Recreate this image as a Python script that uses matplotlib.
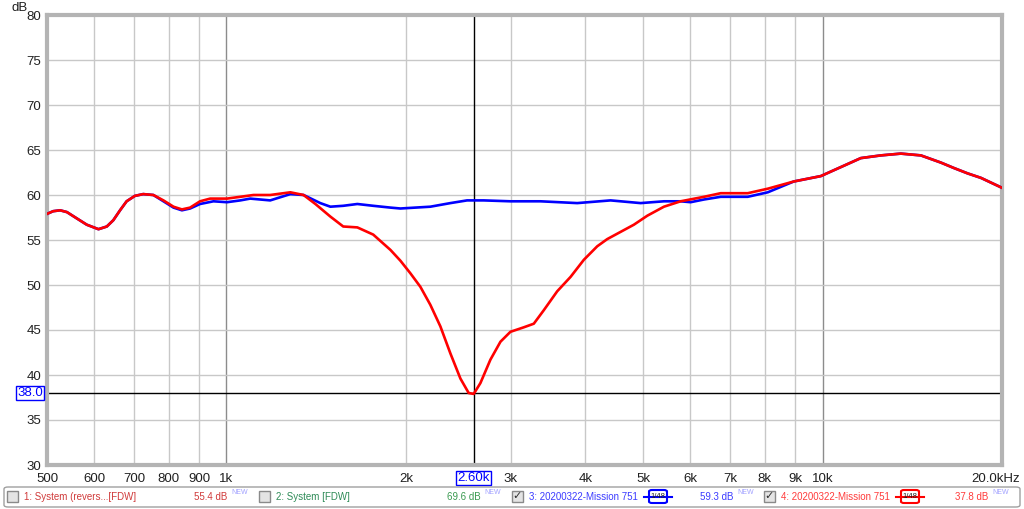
import matplotlib.pyplot as plt
from matplotlib.patches import FancyBboxPatch, Rectangle
from matplotlib.transforms import blended_transform_factory, ScaledTranslation

plt.rcParams['font.family'] = ['Liberation Sans', 'DejaVu Sans']

freq_red = [500, 512, 526, 540, 561, 583, 610, 630, 646, 663, 680, 702, 725, 754, 784,
            815, 842, 869, 903, 939, 1002, 1055, 1110, 1184, 1280, 1347, 1410, 1494,
            1570, 1658, 1763, 1884, 1958, 2035, 2115, 2198, 2285, 2375, 2469, 2549,
            2599, 2667, 2772, 2882, 2995, 3154, 3278, 3407, 3588, 3778, 3977, 4188,
            4353, 4583, 4825, 5082, 5419, 5780, 6326, 6748, 7490, 8093, 8946, 9932,
            10730, 11593, 12525, 13530, 14621, 15797, 16607, 17515, 18441, 20000]
db_red = [57.9, 58.2, 58.3, 58.1, 57.4, 56.7, 56.2, 56.5, 57.2, 58.3, 59.3, 59.9, 60.1, 60.0, 59.4,
          58.7, 58.4, 58.6, 59.3, 59.6, 59.6, 59.8, 60.0, 60.0, 60.3, 60.0, 59.0, 57.6,
          56.5, 56.4, 55.6, 53.9, 52.7, 51.3, 49.8, 47.8, 45.4, 42.4, 39.6, 38.0,
          37.9, 39.1, 41.7, 43.7, 44.8, 45.3, 45.7, 47.2, 49.3, 50.9, 52.8, 54.3,
          55.1, 55.9, 56.7, 57.7, 58.7, 59.3, 59.8, 60.2, 60.2, 60.7, 61.5, 62.1,
          63.1, 64.1, 64.4, 64.6, 64.4, 63.6, 63.0, 62.4, 61.9, 60.8]

freq_blue = [500, 512, 526, 540, 561, 583, 610, 630, 646, 663, 680, 702, 725, 754, 784,
             815, 842, 869, 903, 951, 1002, 1055, 1096, 1184, 1280, 1347, 1437, 1494,
             1570, 1658, 1763, 1884, 1958, 2198, 2375, 2533, 2701, 2995, 3364, 3877,
             4409, 4952, 5419, 5780, 6008, 6326, 6748, 7490, 8093, 8946, 9932,
             10730, 11593, 12525, 13530, 14621, 15797, 16607, 17515, 18441, 20000]
db_blue = [57.9, 58.2, 58.3, 58.1, 57.4, 56.7, 56.2, 56.5, 57.2, 58.3, 59.3, 59.9, 60.1, 60.0, 59.3,
           58.6, 58.3, 58.5, 59.0, 59.3, 59.2, 59.4, 59.6, 59.4, 60.1, 60.0, 59.1, 58.7,
           58.8, 59.0, 58.8, 58.6, 58.5, 58.7, 59.1, 59.4, 59.4, 59.3, 59.3, 59.1,
           59.4, 59.1, 59.3, 59.3, 59.2, 59.5, 59.8, 59.8, 60.3, 61.5, 62.1,
           63.1, 64.1, 64.4, 64.6, 64.4, 63.6, 63.0, 62.4, 61.9, 60.8]

xticks = [500, 600, 700, 800, 900, 1000, 2000, 3000, 4000, 5000, 6000, 7000, 8000, 9000, 10000, 20000]
xlabels = ['500', '600', '700', '800', '900', '1k', '2k', '3k', '4k', '5k', '6k', '7k', '8k', '9k', '10k', '20.0kHz']
yticks = [30, 35, 40, 45, 50, 55, 60, 65, 70, 75, 80]
cursor_f = 2600
cursor_db = 38.0

fig = plt.figure(figsize=(10.24, 5.09), dpi=100)
ax = fig.add_axes([47 / 1024, 44 / 509, 955 / 1024, 450 / 509])
ax.set_xscale('log')
ax.set_xlim(500, 20000)
ax.set_ylim(30, 80)

# grid
for f in xticks[1:-1]:
    c = '#8c8c8c' if f in (1000, 10000) else '#c8c8c8'
    ax.axvline(f, color=c, lw=1, zorder=1)
for y in yticks[1:-1]:
    ax.axhline(y, color='#c8c8c8', lw=1, zorder=1)

# cursor
ax.axvline(cursor_f, color='black', lw=1, zorder=2)
ax.axhline(cursor_db, color='black', lw=1, zorder=2)

ax.plot(freq_blue, db_blue, color='#0000ff', lw=1.9, zorder=3, solid_joinstyle='round')
ax.plot(freq_red, db_red, color='#ff0000', lw=1.9, zorder=4, solid_joinstyle='round')

ax.set_xticks(xticks)
ax.set_xticklabels(xlabels)
ax.xaxis.set_minor_locator(plt.NullLocator())
ax.set_yticks(yticks)
ax.tick_params(length=0, labelsize=9.5, colors='#202020')
ax.tick_params(axis='x', pad=6)
ax.tick_params(axis='y', pad=4)
last = ax.get_xticklabels()[-1]
last.set_transform(last.get_transform() + ScaledTranslation(-6 / 100, 0, fig.dpi_scale_trans))

for s in ax.spines.values():
    s.set_color('#b4b4b4')
    s.set_linewidth(3)

ax.text(-0.02, 1.016, 'dB', transform=ax.transAxes, ha='right', va='center', fontsize=9.5, color='#202020')

# cursor value boxes
tr = blended_transform_factory(ax.transAxes, ax.transData)
ax.text(-0.004, cursor_db, '38.0', transform=tr, ha='right', va='center', fontsize=9.5, color='#0000ff',
        bbox=dict(boxstyle='square,pad=0.1', fc='white', ec='#0000ff', lw=1))
tr2 = blended_transform_factory(ax.transData, ax.transAxes)
ax.text(cursor_f, -0.029, '2.60k', transform=tr2, ha='center', va='center', fontsize=9.5, color='#0000ff',
        bbox=dict(boxstyle='square,pad=0.1', fc='white', ec='#0000ff', lw=1))

# legend bar
W, H = 1024, 509


def fx(px):
    return px / W


def fy(py):
    return 1 - py / H


fig.patches.append(FancyBboxPatch((fx(4), fy(507)), fx(1016), 20 / H, boxstyle='round,pad=0,rounding_size=0.004',
                                  transform=fig.transFigure, fc='white', ec='#a0a0a0', lw=1))


def checkbox(px, checked):
    fig.patches.append(Rectangle((fx(px), fy(502)), 11 / W, 11 / H, transform=fig.transFigure,
                                 fc='#e4e4e4', ec='#8a8a8a', lw=1))
    if checked:
        fig.text(fx(px + 5.5), fy(496.5), '\u2713', ha='center', va='center', fontsize=8, color='#303030',
                 family=['DejaVu Sans'])


legend_items = [
    (7, False, '1: System (revers...[FDW]', '#d03a3a', 194, '55.4 dB', '#d03a3a'),
    (259, False, '2: System [FDW]', '#2e8b57', 447, '69.6 dB', '#3a9a50'),
    (512, True, '3: 20200322-Mission 751', '#3b3bff', 700, '59.3 dB', '#3b3bff'),
    (764, True, '4: 20200322-Mission 751', '#ff3b3b', 955, '37.8 dB', '#ff3b3b'),
]
for cb, chk, name, col, vx, val, vcol in legend_items:
    checkbox(cb, chk)
    fig.text(fx(cb + 17), fy(496.5), name, ha='left', va='center', fontsize=7, color=col)
    fig.text(fx(vx), fy(496.5), val, ha='left', va='center', fontsize=7, color=vcol)
    fig.text(fx(vx + 37), fy(493), 'NEW', ha='left', va='center', fontsize=5, color='#a0a0ff')

for x0, col in [(644, '#0000ff'), (896, '#ff0000')]:
    fig.lines.append(plt.Line2D([fx(x0), fx(x0 + 28)], [fy(496.5), fy(496.5)], transform=fig.transFigure,
                                color=col, lw=1.5))
    fig.patches.append(FancyBboxPatch((fx(x0 + 5), fy(503)), 18 / W, 13 / H, boxstyle='round,pad=0,rounding_size=0.003',
                                      transform=fig.transFigure, fc='white', ec=col, lw=1.5))
    fig.text(fx(x0 + 14), fy(496.5), '1/48', ha='center', va='center', fontsize=5.5, color='#202020')

fig.savefig('out.png', dpi=100)
